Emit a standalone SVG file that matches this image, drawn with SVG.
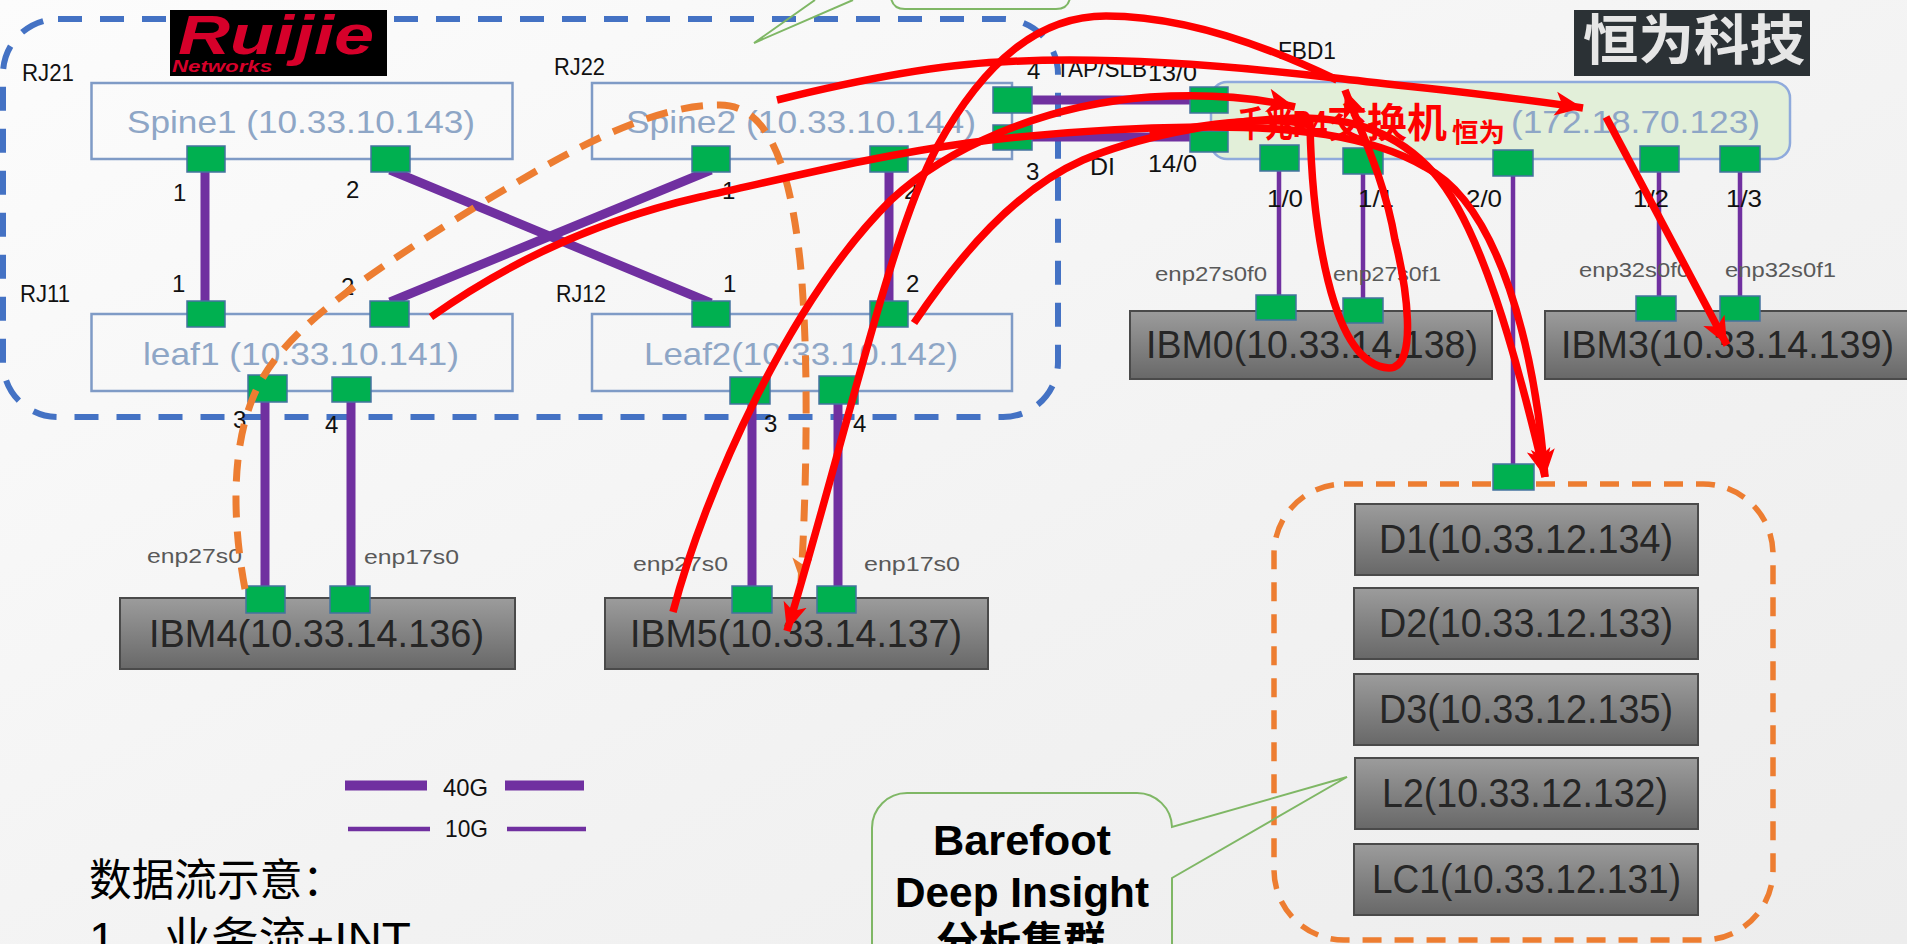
<svg xmlns="http://www.w3.org/2000/svg" width="1907" height="944" viewBox="0 0 1907 944">
<style>
text{font-family:"Liberation Sans","Noto Sans CJK SC",sans-serif}
.box{fill:none;stroke:#7f9bc6;stroke-width:2.5}
.nl{font-size:32px;fill:#8ea6c6}
.srv{fill:url(#gr);stroke:#4a4a4a;stroke-width:2}
.sl{font-size:39px;fill:#262626}
.dl{font-size:41px;fill:#262626}
.p{fill:#00b050;stroke:#44739f;stroke-width:1.5}
.s{font-size:24px;fill:#111}
.e{font-size:21px;fill:#595959}
.l40{stroke:#7030a0;stroke-width:9;fill:none}
.l10{stroke:#7030a0;stroke-width:4.5;fill:none}
.red{stroke:#ff0000;stroke-width:7.5;fill:none}
.call{fill:none;stroke:#7fb765;stroke-width:2}
.b{font-size:42px;font-weight:bold;fill:#000}
</style>
<defs>
<linearGradient id="bg" x1="0" y1="0" x2="1" y2="1"><stop offset="0" stop-color="#fcfcfc"/><stop offset="0.6" stop-color="#f2f2f2"/><stop offset="1" stop-color="#ededed"/></linearGradient>
<linearGradient id="gr" x1="0" y1="0" x2="0" y2="1"><stop offset="0" stop-color="#9c9c9c"/><stop offset="1" stop-color="#686868"/></linearGradient>
<marker id="ar" markerUnits="userSpaceOnUse" markerWidth="36" markerHeight="36" refX="28" refY="14" orient="auto"><path d="M0,2 L28,14 L0,26 L7,14 Z" fill="#ff0000"/></marker>
<marker id="ao" markerUnits="userSpaceOnUse" markerWidth="36" markerHeight="36" refX="24" refY="11" orient="auto"><path d="M0,1 L24,11 L0,21 L6,11 Z" fill="#ed7d31"/></marker>
</defs>
<rect width="1907" height="944" fill="url(#bg)"/>
<g id="domain-rj"><rect x="3" y="19" width="1055" height="398" rx="55" ry="55" fill="none" stroke="#4472c4" stroke-width="6" stroke-dasharray="24 18"/></g>
<g id="logo-ruijie"><rect x="170" y="10" width="217" height="66" fill="#000"/>
<text x="178" y="54" font-size="56" font-weight="bold" font-style="italic" fill="#d6002a" textLength="196" lengthAdjust="spacingAndGlyphs">Ruijie</text>
<text x="172" y="72" font-size="16" font-weight="bold" font-style="italic" fill="#d6002a" textLength="100" lengthAdjust="spacingAndGlyphs">Networks</text></g>
<g id="logo-hengwei"><rect x="1574" y="10" width="236" height="66" fill="#2b3135"/>
<text x="1583" y="60" font-size="54" font-weight="bold" fill="#e6e6e6" textLength="222" lengthAdjust="spacingAndGlyphs">恒为科技</text></g>
<g id="spine1"><rect class="box" x="91.500" y="83" width="421" height="76"/><text class="nl" x="127" y="133" textLength="348" lengthAdjust="spacingAndGlyphs">Spine1 (10.33.10.143)</text></g>
<g id="spine2"><rect class="box" x="592" y="83" width="420" height="76"/><text class="nl" x="626" y="133" textLength="350" lengthAdjust="spacingAndGlyphs">Spine2 (10.33.10.144)</text></g>
<g id="leaf1"><rect class="box" x="91.500" y="314" width="421" height="77"/><text class="nl" x="143" y="365" textLength="316" lengthAdjust="spacingAndGlyphs">leaf1 (10.33.10.141)</text></g>
<g id="leaf2"><rect class="box" x="592" y="314" width="420" height="77"/><text class="nl" x="644" y="365" textLength="314" lengthAdjust="spacingAndGlyphs">Leaf2(10.33.10.142)</text></g>
<g id="switch"><rect x="1211" y="82" width="579" height="77" rx="16" fill="#e2efd9" stroke="#8faadc" stroke-width="2.500"/>
<text x="1237" y="137" font-size="36" font-weight="bold" fill="#ff0000" textLength="90" lengthAdjust="spacingAndGlyphs">千兆P4</text>
<text x="1327" y="137" font-size="40" font-weight="bold" fill="#ff0000" textLength="120" lengthAdjust="spacingAndGlyphs">交换机</text>
<text x="1452" y="142" font-size="26" font-weight="bold" fill="#ff0000" textLength="53" lengthAdjust="spacingAndGlyphs">恒为</text>
<text class="nl" x="1511" y="133" textLength="249" lengthAdjust="spacingAndGlyphs">(172.18.70.123)</text></g>
<g id="ibm0"><rect class="srv" x="1130" y="311" width="362" height="68"/><text class="sl" x="1146" y="358" textLength="332" lengthAdjust="spacingAndGlyphs">IBM0(10.33.14.138)</text></g>
<g id="ibm3"><rect class="srv" x="1545" y="311" width="370" height="68"/><text class="sl" x="1561" y="358" textLength="333" lengthAdjust="spacingAndGlyphs">IBM3(10.33.14.139)</text></g>
<g id="ibm4"><rect class="srv" x="120" y="598" width="395" height="71"/><text class="sl" x="149" y="647" textLength="335" lengthAdjust="spacingAndGlyphs">IBM4(10.33.14.136)</text></g>
<g id="ibm5"><rect class="srv" x="605" y="598" width="383" height="71"/><text class="sl" x="630" y="647" textLength="332" lengthAdjust="spacingAndGlyphs">IBM5(10.33.14.137)</text></g>
<g id="cluster"><rect x="1274" y="484" width="499" height="456" rx="70" ry="70" fill="none" stroke="#ed7d31" stroke-width="5.500" stroke-dasharray="19 13"/></g>
<g id="d1"><rect class="srv" x="1355" y="504" width="343" height="71"/><text class="dl" x="1379" y="553" textLength="294" lengthAdjust="spacingAndGlyphs">D1(10.33.12.134)</text></g>
<g id="d2"><rect class="srv" x="1354" y="588" width="344" height="71"/><text class="dl" x="1379" y="637" textLength="294" lengthAdjust="spacingAndGlyphs">D2(10.33.12.133)</text></g>
<g id="d3"><rect class="srv" x="1354" y="674" width="344" height="71"/><text class="dl" x="1379" y="723" textLength="294" lengthAdjust="spacingAndGlyphs">D3(10.33.12.135)</text></g>
<g id="l2"><rect class="srv" x="1355" y="758" width="343" height="71"/><text class="dl" x="1382" y="807" textLength="286" lengthAdjust="spacingAndGlyphs">L2(10.33.12.132)</text></g>
<g id="lc1"><rect class="srv" x="1354" y="844" width="344" height="71"/><text class="dl" x="1372" y="893" textLength="309" lengthAdjust="spacingAndGlyphs">LC1(10.33.12.131)</text></g>
<g id="connectors">
<path class="l40" d="M205,172V301M390,170L711,303M390,302L711,170M889,172V301M265,402V586M351,402V586M752,404V586M838,404V586M1032,100H1190M1032,137H1190"/>
<path class="l10" d="M1279,171V295M1363,174V298M1513,176V464M1659,172V296M1740,172V296"/>
</g>
<g id="ports">
<rect class="p" x="187" y="146" width="38" height="26"/><rect class="p" x="371" y="146" width="39" height="26"/>
<rect class="p" x="187" y="301" width="38" height="26"/><rect class="p" x="370" y="301" width="39" height="26"/>
<rect class="p" x="248" y="375" width="39" height="27"/><rect class="p" x="332" y="377" width="39" height="25"/>
<rect class="p" x="692" y="146" width="38" height="26"/><rect class="p" x="870" y="146" width="38" height="26"/>
<rect class="p" x="692" y="301" width="38" height="26"/><rect class="p" x="870" y="301" width="38" height="26"/>
<rect class="p" x="730" y="377" width="40" height="27"/><rect class="p" x="819" y="376" width="39" height="28"/>
<rect class="p" x="993" y="87" width="39" height="26"/><rect class="p" x="993" y="125" width="39" height="25"/>
<rect class="p" x="1190" y="87" width="38" height="26"/><rect class="p" x="1190" y="131" width="38" height="21"/>
<rect class="p" x="1260" y="145" width="39" height="26"/><rect class="p" x="1343" y="148" width="40" height="26"/>
<rect class="p" x="1493" y="150" width="40" height="26"/><rect class="p" x="1640" y="146" width="39" height="26"/>
<rect class="p" x="1720" y="146" width="40" height="26"/>
<rect class="p" x="1256" y="295" width="40" height="25"/><rect class="p" x="1343" y="298" width="40" height="25"/>
<rect class="p" x="1636" y="296" width="40" height="25"/><rect class="p" x="1720" y="296" width="40" height="25"/>
<rect class="p" x="246" y="586" width="39" height="27"/><rect class="p" x="330" y="586" width="40" height="27"/>
<rect class="p" x="732" y="586" width="40" height="27"/><rect class="p" x="817" y="586" width="39" height="27"/>
<rect class="p" x="1493" y="464" width="41" height="26"/>
</g>
<g id="labels">
<text class="s" x="22" y="81" textLength="52" lengthAdjust="spacingAndGlyphs">RJ21</text>
<text class="s" x="554" y="75" textLength="51" lengthAdjust="spacingAndGlyphs">RJ22</text>
<text class="s" x="20" y="302" textLength="50" lengthAdjust="spacingAndGlyphs">RJ11</text>
<text class="s" x="556" y="302" textLength="50" lengthAdjust="spacingAndGlyphs">RJ12</text>
<text class="s" x="173" y="201">1</text><text class="s" x="346" y="198">2</text><text class="s" x="172" y="292">1</text><text class="s" x="341" y="295">2</text>
<text class="s" x="722" y="199">1</text><text class="s" x="904" y="199">2</text><text class="s" x="723" y="292">1</text><text class="s" x="906" y="292">2</text>
<text class="s" x="1027" y="79">4</text><text class="s" x="1056" y="77" textLength="91" lengthAdjust="spacingAndGlyphs">TAP/SLB</text><text class="s" x="1148" y="81" textLength="49" lengthAdjust="spacingAndGlyphs">13/0</text>
<text class="s" x="1026" y="180">3</text><text class="s" x="1090" y="175" textLength="25" lengthAdjust="spacingAndGlyphs">DI</text><text class="s" x="1148" y="172" textLength="49" lengthAdjust="spacingAndGlyphs">14/0</text>
<text class="s" x="1278" y="59" textLength="58" lengthAdjust="spacingAndGlyphs">FBD1</text>
<text class="s" x="1267" y="207" textLength="36" lengthAdjust="spacingAndGlyphs">1/0</text><text class="s" x="1358" y="207" textLength="36" lengthAdjust="spacingAndGlyphs">1/1</text><text class="s" x="1466" y="207" textLength="36" lengthAdjust="spacingAndGlyphs">2/0</text><text class="s" x="1633" y="207" textLength="36" lengthAdjust="spacingAndGlyphs">1/2</text><text class="s" x="1726" y="207" textLength="36" lengthAdjust="spacingAndGlyphs">1/3</text>
<text class="s" x="233" y="428">3</text><text class="s" x="325" y="433">4</text><text class="s" x="764" y="432">3</text><text class="s" x="853" y="432">4</text>
<text class="e" x="1155" y="281" textLength="112" lengthAdjust="spacingAndGlyphs">enp27s0f0</text><text class="e" x="1333" y="281" textLength="108" lengthAdjust="spacingAndGlyphs">enp27s0f1</text>
<text class="e" x="1579" y="277" textLength="111" lengthAdjust="spacingAndGlyphs">enp32s0f0</text><text class="e" x="1725" y="277" textLength="111" lengthAdjust="spacingAndGlyphs">enp32s0f1</text>
<text class="e" x="147" y="563" textLength="95" lengthAdjust="spacingAndGlyphs">enp27s0</text><text class="e" x="364" y="564" textLength="95" lengthAdjust="spacingAndGlyphs">enp17s0</text>
<text class="e" x="633" y="571" textLength="95" lengthAdjust="spacingAndGlyphs">enp27s0</text><text class="e" x="864" y="571" textLength="96" lengthAdjust="spacingAndGlyphs">enp17s0</text>
</g>
<g id="legend">
<path class="l40" d="M345,785.500H427M505,785.500H584" style="stroke-width:10"/>
<path class="l10" d="M348,829H430M507,829H586"/>
<text class="s" x="443" y="796" textLength="45" lengthAdjust="spacingAndGlyphs">40G</text>
<text class="s" x="445" y="837" textLength="43" lengthAdjust="spacingAndGlyphs">10G</text>
</g>
<g id="notes">
<text x="89" y="896" font-size="44" fill="#000" textLength="256" lengthAdjust="spacingAndGlyphs">数据流示意：</text>
<text x="89" y="954" font-size="44" fill="#000" textLength="322" lengthAdjust="spacingAndGlyphs">1、业务流+INT</text>
</g>
<g id="callout-top"><path class="call" d="M815,0L754,43L853,0M891,-2Q893,9 905,9H1056Q1068,9 1070,-2"/></g>
<g id="callout-barefoot"><path class="call" d="M907,793H1137A35,35 0 0 1 1172,827L1347,777L1172,878V960H872V828A35,35 0 0 1 907,793Z"/>
<text class="b" x="933" y="855" textLength="178" lengthAdjust="spacingAndGlyphs">Barefoot</text>
<text class="b" x="895" y="907" textLength="254" lengthAdjust="spacingAndGlyphs">Deep Insight</text>
<text class="b" x="936" y="957" textLength="170" lengthAdjust="spacingAndGlyphs">分析集群</text></g>
<g id="flows">
<path fill="none" stroke="#ed7d31" stroke-width="7" stroke-dasharray="22 14" marker-end="url(#ao)" d="M245,589C232,520 232,450 252,400C275,340 340,290 482,203C570,150 650,105 720,105C770,105 790,170 800,260C808,340 808,460 801,582"/>
<path class="red" marker-end="url(#ar)" d="M431,317C500,268 590,222 700,197C800,175 880,155 968,143C1050,132 1120,128 1200,127C1290,126 1370,135 1425,167C1500,205 1535,350 1545,477"/>
<path class="red" marker-end="url(#ar)" d="M914,323C960,255 1015,190 1083,160C1130,140 1210,120 1300,118C1350,118 1395,130 1434,173C1480,225 1515,350 1545,477"/>
<path class="red" marker-end="url(#ar)" d="M673,612C705,490 790,300 891,200C945,150 1040,105 1150,97C1200,94 1250,96 1295,107"/>
<path class="red" marker-end="url(#ar)" d="M777,100C850,82 930,65 1000,62C1120,55 1250,68 1335,78C1420,88 1500,95 1583,108"/>
<path class="red" marker-end="url(#ar)" d="M1337,80C1275,50 1190,16 1106,16C1040,16 985,60 937,147C890,235 845,440 787,631"/>
<path class="red" marker-end="url(#ar)" d="M1150,135C1200,125 1270,115 1310,125C1312,220 1330,365 1389,368C1420,368 1405,280 1395,240C1385,180 1360,130 1345,90"/>
<path class="red" marker-end="url(#ar)" d="M1606,117L1727,345"/>
</g>
</svg>
